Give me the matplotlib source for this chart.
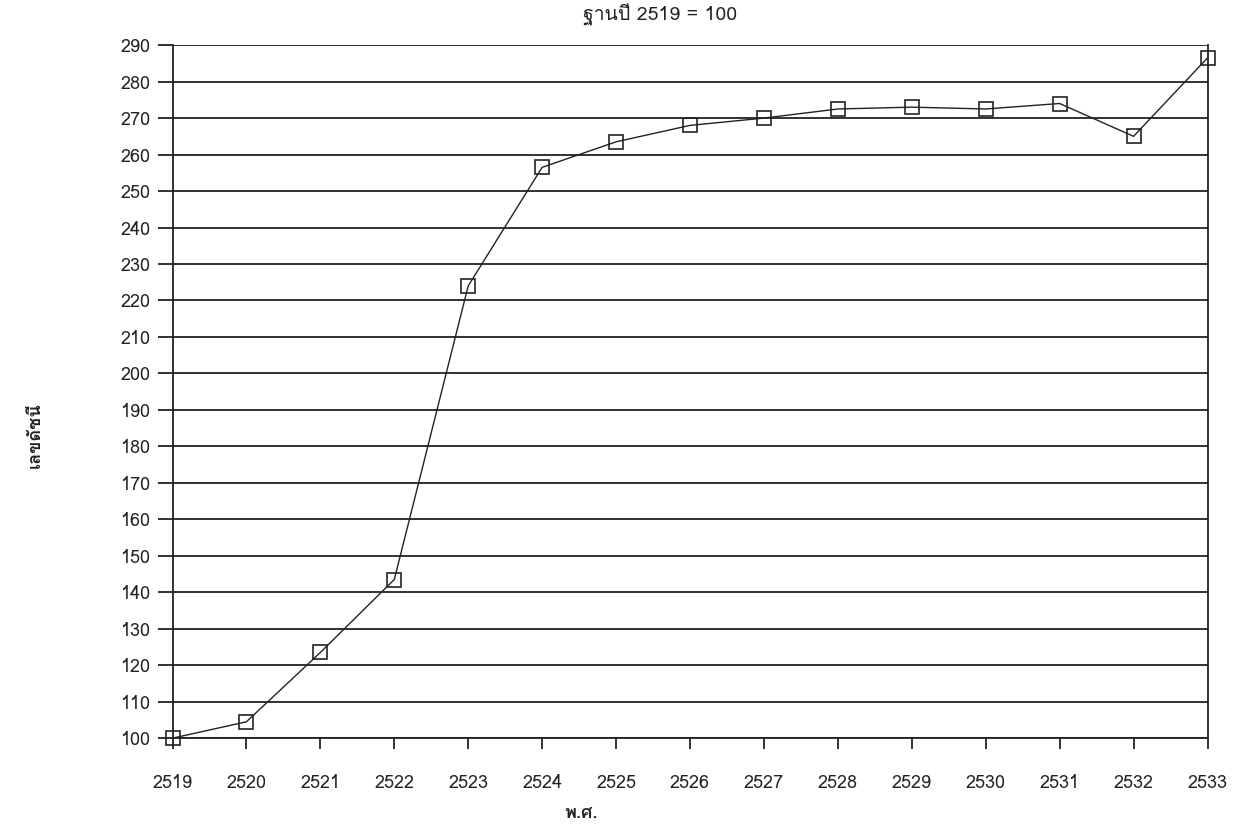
import matplotlib
matplotlib.use("Agg")
import matplotlib.pyplot as plt
from matplotlib import font_manager
from matplotlib.ft2font import FT2Font

years = [2519, 2520, 2521, 2522, 2523, 2524, 2525, 2526, 2527, 2528, 2529, 2530, 2531, 2532, 2533]
index_values = [100, 104.5, 123.5, 143.5, 224, 256.5, 263.5, 268, 270, 272.5, 273, 272.5, 274, 265, 286.5]
y_ticks = list(range(100, 291, 10))
title_text = "ฐานปี 2519 = 100"
ylabel_text = "เลขดัชนี"
xlabel_text = "พ.ศ."


def find_thai_font():
    for fe in font_manager.fontManager.ttflist:
        try:
            cmap = FT2Font(fe.fname).get_charmap()
        except Exception:
            continue
        if 0x0E10 in cmap and 0x0E19 in cmap:
            return fe.name
    return None


thai = find_thai_font()
fams = [thai, "DejaVu Sans"] if thai else ["DejaVu Sans"]
plt.rcParams["font.family"] = fams

fig = plt.figure(figsize=(12.5, 8.36), dpi=100)
ax = fig.add_axes([0.138, 0.117, 0.828, 0.829])

ax.plot(years, index_values, color="#222222", lw=1.0, marker="s", ms=10,
        mfc="none", mec="#222222", mew=1.2, zorder=3, clip_on=False)

ax.set_xlim(2519, 2533)
ax.set_ylim(100, 290)
ax.set_xticks(years)
ax.set_xticklabels([str(y) for y in years])
ax.set_yticks(y_ticks)
ax.grid(axis="y", color="#222222", lw=1.3)
ax.set_axisbelow(True)

ax.spines["top"].set_visible(False)
for s in ["left", "right", "bottom"]:
    ax.spines[s].set_color("#222222")
    ax.spines[s].set_linewidth(1.3)

ax.tick_params(axis="y", length=11, width=1.3, pad=5, labelsize=13, colors="#222222")
ax.tick_params(axis="x", length=8, width=1.3, pad=18, labelsize=13, colors="#222222")

fig.text(0.528, 0.982, title_text, ha="center", va="center", fontsize=14, color="#222222")
fig.text(0.028, 0.48, ylabel_text, ha="center", va="center", rotation=90, fontsize=13,
         fontweight="bold", color="#222222")
fig.text(0.465, 0.028, xlabel_text, ha="center", va="center", fontsize=13,
         fontweight="bold", color="#222222")

fig.savefig("out.png", dpi=100, facecolor="white")
